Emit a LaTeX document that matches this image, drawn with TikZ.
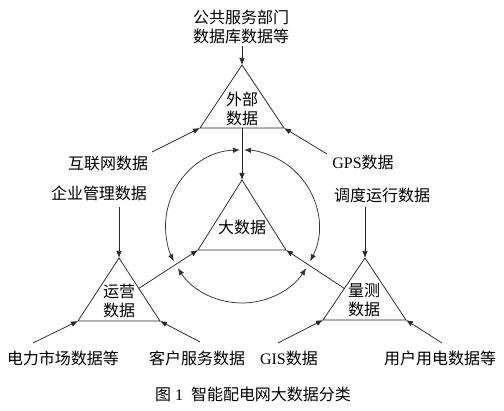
\documentclass[tikz,border=0pt]{standalone}
\usepackage{fontspec}
\setmainfont{Liberation Serif}
\newfontfamily\cjk{Noto Sans CJK SC}
\usetikzlibrary{arrows.meta}
\begin{document}
\begin{tikzpicture}[x=1pt,y=-1pt,
  lbl/.style={font=\fontsize{16}{18.5}\selectfont\cjk, inner sep=0pt, align=center, text=black},
  tri/.style={draw=black!85, line width=0.75pt, line join=miter},
  arr/.style={draw=black!85, line width=0.75pt, -{Latex[length=7pt,width=5.5pt]}},
  cyc/.style={draw=black!80, line width=0.75pt, {Latex[length=7pt,width=5.5pt]}-{Latex[length=7pt,width=5.5pt]}}]
\useasboundingbox (0,0) rectangle (504,411);
% triangle vertices
\coordinate (tA) at (242,65);  \coordinate (tL) at (200,128); \coordinate (tR) at (284,128); \coordinate (tM) at (242,128);
\coordinate (bA) at (242,180); \coordinate (bL) at (198,250); \coordinate (bR) at (286,250);
\coordinate (lA) at (119,258); \coordinate (lL) at (78,321);  \coordinate (lR) at (160,321);
\coordinate (rA) at (365,258); \coordinate (rL) at (323,320); \coordinate (rR) at (406,320);
\coordinate (c) at (242,226.5);
\coordinate (lE) at (138.8,288.4);
\coordinate (rE) at (344.4,288.5);
% triangles
\draw[tri] (tA) -- (tL) -- (tR) -- cycle;
\draw[tri] (bA) -- (bL) -- (bR) -- cycle;
\draw[tri] (lA) -- (lL) -- (lR) -- cycle;
\draw[tri] (rA) -- (rL) -- (rR) -- cycle;
% triangle labels
\node[lbl] (ext) at (242,109) {外部\\数据};
\node[lbl] (big) at (242,227) {大数据};
\node[lbl] (ops) at (119,301) {运营\\数据};
\node[lbl] (mea) at (364,300) {量测\\数据};
% source labels
\node[lbl] (pub) at (241,27) {公共服务部门\\数据库数据等};
\node[lbl] (inet) at (108,163) {互联网数据};
\node[lbl] (ent) at (99,193) {企业管理数据};
\node[lbl] (gps) at (363,162) {{\rmfamily GPS}数据};
\node[lbl] (disp) at (382,195) {调度运行数据};
\node[lbl] (pm) at (63,358) {电力市场数据等};
\node[lbl] (cs) at (197,358) {客户服务数据};
\node[lbl] (gis) at (289,358) {{\rmfamily GIS}数据};
\node[lbl] (user) at (440,358) {用户用电数据等};
\node[lbl] (cap) at (253,394) {图{\rmfamily\ 1\ \ }智能配电网大数据分类};
% arrow start points
\coordinate (sPub) at (242,46);
\coordinate (sInet) at (152,152);
\coordinate (sGps) at (327,154);
\coordinate (sEnt) at (119,207);
\coordinate (sDisp) at (365,207);
\coordinate (sPm) at (33,343);
\coordinate (sCs) at (200,342);
\coordinate (sGis) at (278,343);
\coordinate (sUser) at (442,343);
% arrows
\draw[arr] (sPub) -- (tA);
\draw[arr] (sInet) -- (tL);
\draw[arr] (sGps) -- (tR);
\draw[arr] (tM) -- (bA);
\draw[arr] (sEnt) -- (lA);
\draw[arr] (sDisp) -- (rA);
\draw[arr] (sPm) -- (lL);
\draw[arr] (sCs) -- (lR);
\draw[arr] (sGis) -- (rL);
\draw[arr] (sUser) -- (rR);
\draw[arr] (lE) -- (bL);
\draw[arr] (rE) -- (bR);
% cycle arcs
\draw[cyc] (c) ++(268.5:76.5) arc[start angle=268.5, end angle=153, radius=76.5];
\draw[cyc] (c) ++(147:76.5) arc[start angle=147, end angle=33, radius=76.5];
\draw[cyc] (c) ++(27:76.5) arc[start angle=27, end angle=-88.5, radius=76.5];
\end{tikzpicture}
\end{document}
